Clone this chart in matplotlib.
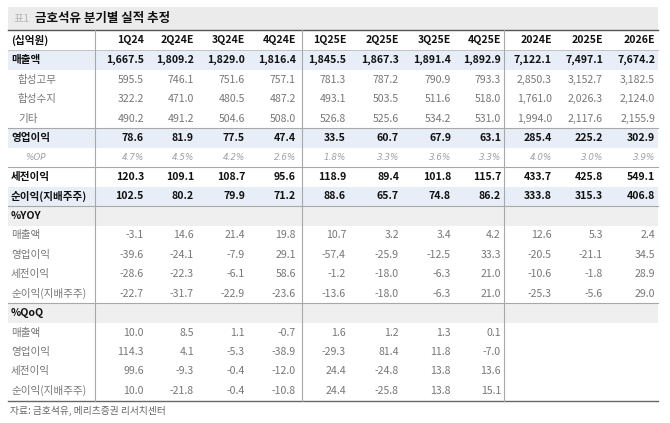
import matplotlib
matplotlib.use("Agg")
import matplotlib.pyplot as plt
from matplotlib.patches import Rectangle

plt.rcParams['font.family'] = ['Noto Sans CJK KR', 'DejaVu Sans']

title_tag = "표1"
title = "금호석유 분기별 실적 추정"
unit_label = "(십억원)"
columns = ["1Q24", "2Q24E", "3Q24E", "4Q24E", "1Q25E", "2Q25E", "3Q25E", "4Q25E", "2024E", "2025E", "2026E"]

sales = ["1,667.5", "1,809.2", "1,829.0", "1,816.4", "1,845.5", "1,867.3", "1,891.4", "1,892.9", "7,122.1", "7,497.1", "7,674.2"]
rubber = ["595.5", "746.1", "751.6", "757.1", "781.3", "787.2", "790.9", "793.3", "2,850.3", "3,152.7", "3,182.5"]
resin = ["322.2", "471.0", "480.5", "487.2", "493.1", "503.5", "511.6", "518.0", "1,761.0", "2,026.3", "2,124.0"]
others = ["490.2", "491.2", "504.6", "508.0", "526.8", "525.6", "534.2", "531.0", "1,994.0", "2,117.6", "2,155.9"]
op = ["78.6", "81.9", "77.5", "47.4", "33.5", "60.7", "67.9", "63.1", "285.4", "225.2", "302.9"]
opm = ["4.7%", "4.5%", "4.2%", "2.6%", "1.8%", "3.3%", "3.6%", "3.3%", "4.0%", "3.0%", "3.9%"]
pretax = ["120.3", "109.1", "108.7", "95.6", "118.9", "89.4", "101.8", "115.7", "433.7", "425.8", "549.1"]
net = ["102.5", "80.2", "79.9", "71.2", "88.6", "65.7", "74.8", "86.2", "333.8", "315.3", "406.8"]
yoy_sales = ["-3.1", "14.6", "21.4", "19.8", "10.7", "3.2", "3.4", "4.2", "12.6", "5.3", "2.4"]
yoy_op = ["-39.6", "-24.1", "-7.9", "29.1", "-57.4", "-25.9", "-12.5", "33.3", "-20.5", "-21.1", "34.5"]
yoy_pretax = ["-28.6", "-22.3", "-6.1", "58.6", "-1.2", "-18.0", "-6.3", "21.0", "-10.6", "-1.8", "28.9"]
yoy_net = ["-22.7", "-31.7", "-22.9", "-23.6", "-13.6", "-18.0", "-6.3", "21.0", "-25.3", "-5.6", "29.0"]
qoq_sales = ["10.0", "8.5", "1.1", "-0.7", "1.6", "1.2", "1.3", "0.1"]
qoq_op = ["114.3", "4.1", "-5.3", "-38.9", "-29.3", "81.4", "11.8", "-7.0"]
qoq_pretax = ["99.6", "-9.3", "-0.4", "-12.0", "24.4", "-24.8", "13.8", "13.6"]
qoq_net = ["10.0", "-21.8", "-0.4", "-10.8", "24.4", "-25.8", "13.8", "15.1"]
source = "자료: 금호석유, 메리츠증권 리서치센터"

# row definitions: (label, values, style)
rows = [
    ("매출액", sales, "main_blue"),
    ("합성고무", rubber, "sub"),
    ("합성수지", resin, "sub"),
    ("기타", others, "sub"),
    ("영업이익", op, "main_blue"),
    ("%OP", opm, "pct"),
    ("세전이익", pretax, "main"),
    ("순이익(지배주주)", net, "main_blue"),
    ("%YOY", [], "section"),
    ("매출액", yoy_sales, "plain"),
    ("영업이익", yoy_op, "plain"),
    ("세전이익", yoy_pretax, "plain"),
    ("순이익(지배주주)", yoy_net, "plain"),
    ("%QoQ", [], "section"),
    ("매출액", qoq_sales, "plain"),
    ("영업이익", qoq_op, "plain"),
    ("세전이익", qoq_pretax, "plain"),
    ("순이익(지배주주)", qoq_net, "plain"),
]
lines_above = {4: "#a8a8a8", 6: "#a8a8a8", 8: "#a8a8a8", 13: "#a8a8a8"}

W, H = 670, 423
fig = plt.figure(figsize=(6.7, 4.23), dpi=100)
ax = fig.add_axes([0, 0, 1, 1])
ax.set_xlim(0, W)
ax.set_ylim(H, 0)
ax.axis("off")

left, right = 8, 658
col_right = [144, 194, 245, 296, 346, 399, 451, 501, 552, 603, 655]
vlines = [95, 302, 504]
header_top = 30
header_h = 20.5
row_h = 19.45
fs = 7.6

# title bar
ax.add_patch(Rectangle((left, 7), right - left, header_top - 7, color="#ebebeb", lw=0))
ax.text(left + 5, 18.5, title_tag, fontsize=8, color="#b8b8b8", va="center", ha="left")
ax.text(left + 27, 18.5, title, fontsize=9, color="#111111", fontweight="bold", va="center", ha="left")

# header
ax.plot([left, right], [header_top, header_top], color="#555555", lw=1.0)
hy = header_top + header_h / 2
ax.text(left + 3, hy, unit_label, fontsize=fs, fontweight="bold", va="center", ha="left", color="#111111")
for c, xr in zip(columns, col_right):
    ax.text(xr, hy, c, fontsize=fs, fontweight="bold", va="center", ha="right", color="#111111")

y0 = header_top + header_h
ax.plot([left, right], [y0, y0], color="#bbbbbb", lw=0.6)
for i, (label, vals, style) in enumerate(rows):
    top = y0 + i * row_h
    cy = top + row_h / 2
    if style == "main_blue":
        ax.add_patch(Rectangle((left, top), right - left, row_h, color="#e8eef8", lw=0))
    elif style == "section":
        ax.add_patch(Rectangle((left, top), right - left, row_h, color="#efefef", lw=0))
    if i in lines_above:
        ax.plot([left, right], [top, top], color=lines_above[i], lw=0.8)
    size = fs
    if style in ("main_blue", "main", "section"):
        kw = dict(fontweight="bold", color="#111111")
        lx = left + 3
    elif style == "sub":
        kw = dict(color="#777777")
        lx = left + 10
    elif style == "pct":
        kw = dict(color="#a0a0a0", fontstyle="italic", family=["DejaVu Sans"])
        lx = left + 17
        size = 6.3
    else:
        kw = dict(color="#777777")
        lx = left + 3
    ax.text(lx, cy, label, fontsize=size, va="center", ha="left", **kw)
    for v, xr in zip(vals, col_right):
        ax.text(xr, cy, v, fontsize=size, va="center", ha="right", **kw)

bottom = y0 + len(rows) * row_h
ax.plot([left, right], [bottom, bottom], color="#666666", lw=1.0)
for vx in vlines:
    ax.plot([vx, vx], [header_top, bottom], color="#a8a8a8", lw=0.8)

ax.text(left + 2, bottom + 10.5, source, fontsize=7, color="#666666", va="center", ha="left")

fig.savefig("out.png", dpi=100)
